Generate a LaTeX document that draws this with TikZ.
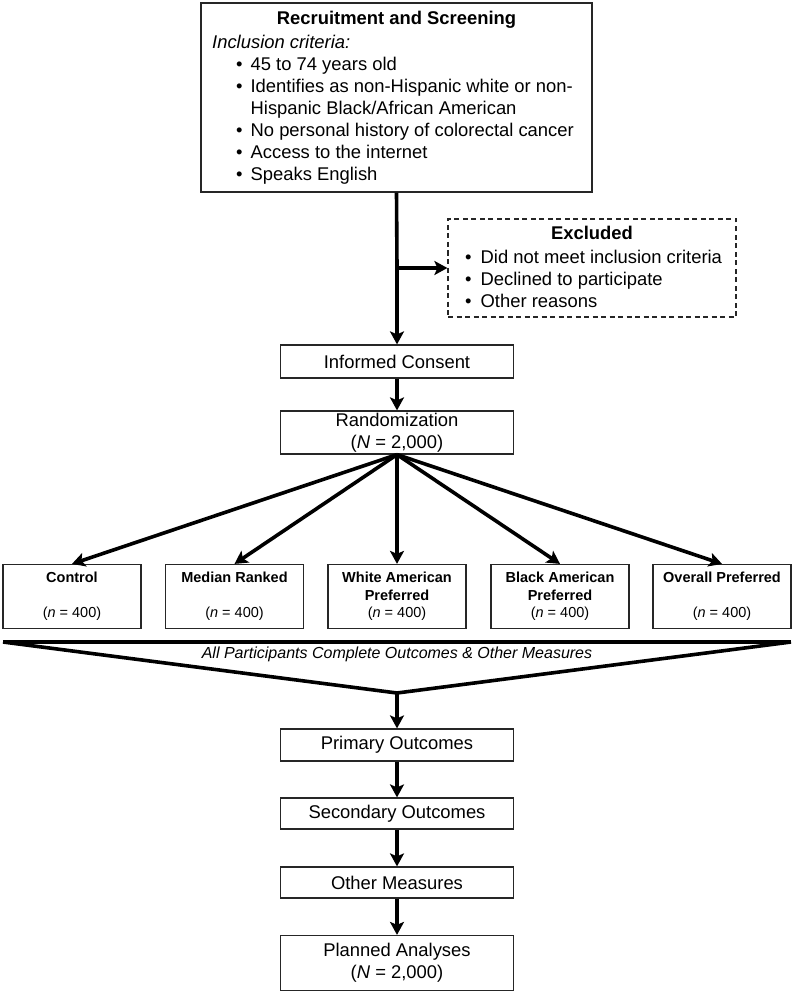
\documentclass[tikz,border=0pt]{standalone}
\usepackage{fontspec}
\setmainfont{Liberation Sans}
\usetikzlibrary{arrows.meta}

\begin{document}
\begin{tikzpicture}[x=1pt, y=-1pt]
	\tikzstyle{every node} = [inner sep=0pt, font=\fontsize{18.4}{22}\selectfont]
	\tikzstyle{box} = [draw=black!85, line width=1.2pt, align=center]
	\tikzstyle{arm} = [box, minimum width=138pt, minimum height=64pt, font=\fontsize{14.5}{17.5}\selectfont]
	\tikzstyle{stage} = [box, minimum width=233pt]
	\tikzstyle{flow} = [line width=3.6pt, -{Stealth[length=13pt, width=14pt, inset=3pt]}]
	\useasboundingbox (0,0) rectangle (794,992);

	% screening and exclusion
	\node[box, minimum width=391pt, minimum height=189pt] (screen) at (396.5,97.5) {};
	\node[font=\bfseries\fontsize{18.4}{22}\selectfont] (screentitle) at (396.5,20) {Recruitment and Screening};
	\node[anchor=north west] (criteria) at (212,33) {%
		\begin{tabular}{@{\hspace{24pt}}l@{\hspace{8pt}}l@{}}
			\multicolumn{2}{@{}l@{}}{\textit{Inclusion criteria:}}\\
			\textbullet & 45 to 74 years old\\
			\textbullet & Identifies as non-Hispanic white or non-\\
			 & Hispanic Black/African American\\
			\textbullet & No personal history of colorectal cancer\\
			\textbullet & Access to the internet\\
			\textbullet & Speaks English
		\end{tabular}};
	\node[box, dash pattern=on 5pt off 3.5pt, minimum width=288pt, minimum height=98pt] (excl) at (592,268) {};
	\node[font=\bfseries\fontsize{18.4}{22}\selectfont] (excltitle) at (592,233) {Excluded};
	\node[anchor=north west] (reasons) at (453,248) {%
		\begin{tabular}{@{\hspace{12pt}}l@{\hspace{9pt}}l@{}}
			\textbullet & Did not meet inclusion criteria\\
			\textbullet & Declined to participate\\
			\textbullet & Other reasons
		\end{tabular}};

	% consent and randomization
	\node[stage, minimum height=33pt] (consent) at (397,361.5) {Informed Consent};
	\node[stage, minimum height=43pt] (rand) at (397,432.5) {Randomization\\(\textit{N} = 2,000)};

	% study arms
	\node[arm] (control) at (72,596.5) {\textbf{Control}\\\mbox{}\\(\textit{n} = 400)};
	\node[arm] (median) at (234.5,596.5) {\textbf{Median Ranked}\\\mbox{}\\(\textit{n} = 400)};
	\node[arm] (white) at (397,596.5) {\textbf{White American}\\\textbf{Preferred}\\(\textit{n} = 400)};
	\node[arm] (black) at (560,596.5) {\textbf{Black American}\\\textbf{Preferred}\\(\textit{n} = 400)};
	\node[arm] (overall) at (722,596.5) {\textbf{Overall Preferred}\\\mbox{}\\(\textit{n} = 400)};

	% funnel
	\coordinate (fleft) at (3,642);
	\coordinate (fright) at (791,642);
	\coordinate (apex) at (397,693);
	\draw[line width=4.2pt] (fleft) -- (fright);
	\draw[line width=3.6pt, line join=miter] (fleft) -- (apex) -- (fright);
	\node[font=\itshape\fontsize{16}{19}\selectfont] (allmeasures) at (397,654.5) {All Participants Complete Outcomes \& Other Measures};

	% outcomes
	\node[stage, minimum height=32pt] (primary) at (397,745) {Primary Outcomes};
	\node[stage, minimum height=31pt] (secondary) at (397,813.5) {Secondary Outcomes};
	\node[stage, minimum height=31pt] (other) at (397,882.5) {Other Measures};
	\node[stage, minimum height=55pt] (planned) at (397,963) {Planned Analyses\\(\textit{N} = 2,000)};

	\coordinate (split) at (397,268);
	\draw[line width=3.6pt] (screen.south) -- (split);
	\draw[flow] (split) -- (consent.north);
	\draw[flow] (split) -- (excl.west);
	\draw[flow] (consent) -- (rand);
	\draw[flow] (rand.south) -- (control.north);
	\draw[flow] (rand.south) -- (median.north);
	\draw[flow] (rand.south) -- (white.north);
	\draw[flow] (rand.south) -- (black.north);
	\draw[flow] (rand.south) -- (overall.north);
	\draw[flow] (apex) -- (primary);
	\draw[flow] (primary) -- (secondary);
	\draw[flow] (secondary) -- (other);
	\draw[flow] (other) -- (planned);
\end{tikzpicture}
\end{document}
